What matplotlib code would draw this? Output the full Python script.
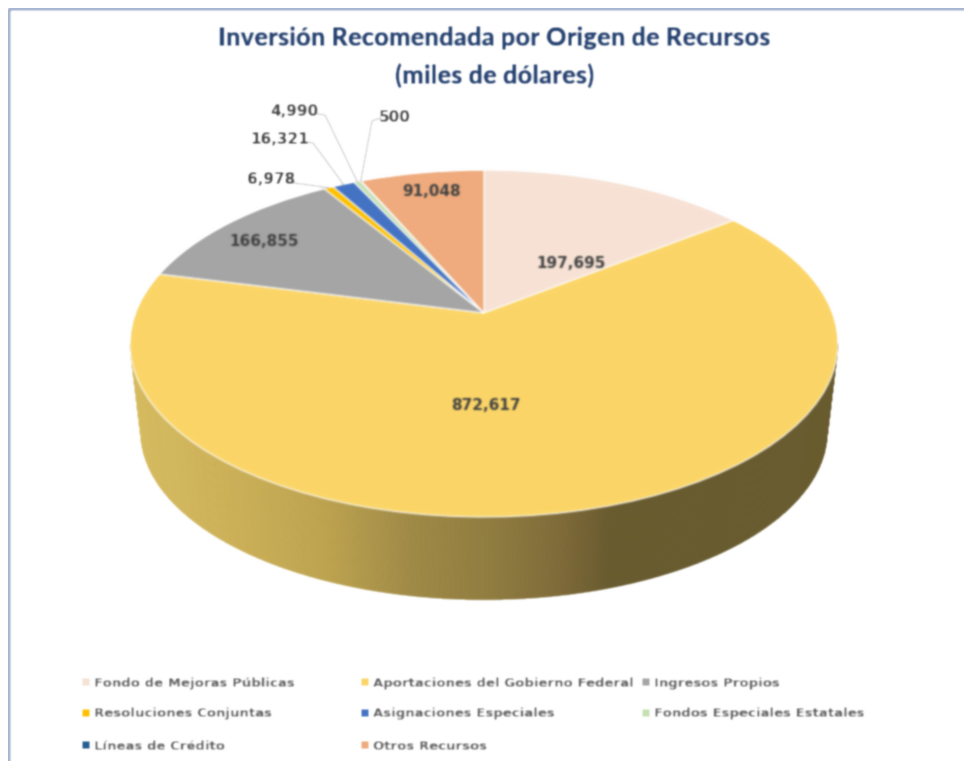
import numpy as np
import matplotlib
matplotlib.use("Agg")
import matplotlib.pyplot as plt
from matplotlib.collections import PolyCollection
from matplotlib.colors import to_rgb
from matplotlib.transforms import Transform

# ---- data ----
categories = ["Fondo de Mejoras Públicas", "Aportaciones del Gobierno Federal", "Ingresos Propios",
              "Resoluciones Conjuntas", "Asignaciones Especiales", "Fondos Especiales Estatales",
              "Líneas de Crédito", "Otros Recursos"]
values = [197695, 872617, 166855, 6978, 16321, 4990, 500, 91048]
value_labels = ["197,695", "872,617", "166,855", "6,978", "16,321", "4,990", "500", "91,048"]
colors = ["#F7E2D5", "#FBD566", "#A5A5A5", "#FFC000", "#4472C4", "#C6E0B4", "#255E91", "#EFAB7C"]
title_lines = ["Inversión Recomendada por Origen de Recursos", "(miles de dólares)"]

plt.rcParams["font.family"] = ["Lato", "DejaVu Sans"]
W, H = 964, 761
fig = plt.figure(figsize=(W / 100, H / 100), dpi=100, facecolor="white")
ax = fig.add_axes([0, 0, 1, 1])


class TiltedDisc(Transform):
    """Perspective view of the unit disc, to pixel coordinates of the axes."""
    input_dims = output_dims = 2
    is_separable = False
    has_inverse = False

    def __init__(self, scale=1.0, drop=0.0):
        super().__init__()
        self.scale, self.drop = scale, drop

    def transform_non_affine(self, v):
        v = np.asarray(v, float)
        w = 1 + 0.1758 * v[:, 1]
        return np.column_stack([484 + self.scale * 348.5 * v[:, 0] / w,
                                313 + self.drop - self.scale * 168.1 * v[:, 1] / w])


top = TiltedDisc()
low = TiltedDisc(scale=0.97, drop=89)

wedges, _ = ax.pie(values, colors=colors, startangle=90, counterclock=False,
                   wedgeprops=dict(edgecolor="white", linewidth=0.8))
ax.set_aspect("auto")
ax.set_xlim(0, W)
ax.set_ylim(H, 0)
ax.axis("on")
ax.set_xticks([])
ax.set_yticks([])
for s in ax.spines.values():
    s.set_visible(False)
ax.patch.set_facecolor("white")
for w in wedges:
    w.set_transform(top + ax.transData)
    w.set_zorder(3)

# side wall of the disc: belongs to the slice facing the viewer
big = wedges[int(np.argmax(values))]
t = np.radians(np.linspace(big.theta1, big.theta2, 500))
t = t[np.sin(t) < -0.173]
unit = np.column_stack([np.cos(t), np.sin(t)])
a, b = top.transform_non_affine(unit), low.transform_non_affine(unit)
polys = [np.vstack([a[i], a[i + 1], b[i + 1], b[i]]) for i in range(len(t) - 1)]
stops_x = np.array([132, 243, 330, 410, 500, 560, 612, 840])
stops_c = np.array([to_rgb(c) for c in ["#D6BB5F", "#CBAF57", "#BCA24E", "#A08A46",
                                        "#8E7A3E", "#7F6A38", "#675A2E", "#675A2E"]])
mids = np.array([p[:, 0].mean() for p in polys])
cols = np.column_stack([np.interp(mids, stops_x, stops_c[:, i]) for i in range(3)])
ax.add_collection(PolyCollection(polys, facecolors=cols, edgecolors=cols, linewidths=0.6, zorder=2))

# value labels
label_font = dict(fontsize=11, fontweight="bold", family=["DejaVu Sans"], color="#404040",
                  ha="center", va="center", zorder=5)
label_xy = [(571, 264), (486, 406), (264, 242), (271, 179), (280, 140), (294, 111), (395, 117), (432, 191)]
for (x, y), s in zip(label_xy, value_labels):
    ax.text(x, y, s, **label_font)

# leader lines from the small slices to their labels
elbows = {3: [(294, 183)], 4: [(307, 142), (313, 143)], 5: [(318, 114), (325, 115)], 6: [(380, 118), (372, 121)]}
for i, pts in elbows.items():
    wd = wedges[i]
    m = np.radians((wd.theta1 + wd.theta2) / 2)
    end = top.transform_non_affine(np.array([[np.cos(m), np.sin(m)]]))[0]
    xs, ys = zip(*(pts + [tuple(end)]))
    ax.plot(xs, ys, color="#BFBFBF", lw=0.9, zorder=4)

# title
title_font = dict(fontsize=18.4, fontweight=800, color="#24406F", ha="center", va="center")
ax.text(494.5, 38, title_lines[0], **title_font)
ax.text(495, 75.5, title_lines[1], **title_font)

# legend, three columns filled row by row
col_x = [82, 361, 642]
row_y = [682, 713, 745]
for k, (name, c) in enumerate(zip(categories, colors)):
    r, cl = divmod(k, 3)
    ax.scatter(col_x[cl] + 3.5, row_y[r], s=30, marker="s", color=c, linewidths=0, zorder=5)
    ax.text(col_x[cl] + 12, row_y[r] + 1, name, fontsize=9.5, family=["DejaVu Sans"], fontweight="bold",
            color="#595959", ha="left", va="center")

# chart frame, open at the right and at the bottom
ax.plot([8.5, 8.5, W + 5], [H + 5, 8.5, 8.5], color="#93A4C6", lw=1.8, zorder=6)


def soften(img, dpi):
    """The reference is a slightly blurred screenshot."""
    x = np.arange(-3, 4)
    k = np.exp(-x ** 2 / (2 * 1.0 ** 2))
    k /= k.sum()
    out = img
    for axis in (0, 1):
        out = np.apply_along_axis(lambda m: np.convolve(np.pad(m, 3, mode="edge"), k, mode="valid"), axis, out)
    return out, 0, 0


ax.set_agg_filter(soften)
fig.savefig("out.png", dpi=100, facecolor="white")
